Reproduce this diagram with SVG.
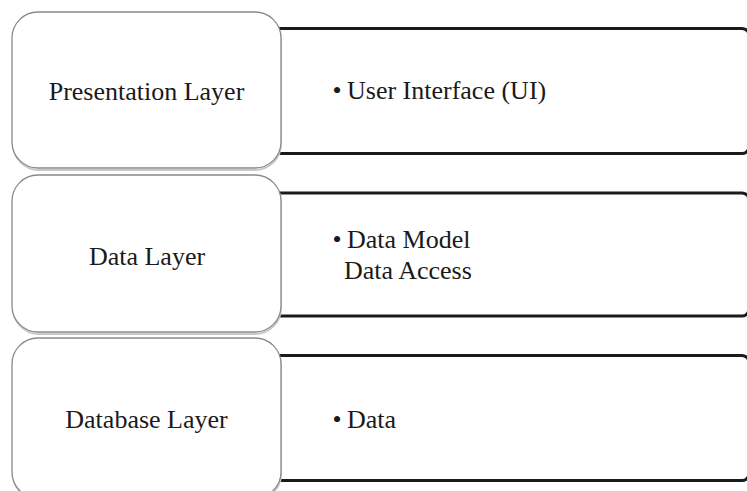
<svg xmlns="http://www.w3.org/2000/svg" width="747" height="491" viewBox="0 0 747 491">
<style>
.panel{fill:#fff;stroke:#1a1a1a;stroke-width:3}
.shadow{fill:none;stroke:#c8c8c8;stroke-width:2}
.layer{fill:#fff;stroke:#8a8a8a;stroke-width:1.3}
text{font-family:"Liberation Serif","Times New Roman",serif;font-size:26px;fill:#1a1a1a}
.c{text-anchor:middle}
</style>
<rect width="747" height="491" fill="#fff"/>
<g id="connectors"></g>
<g id="presentation">
<rect class="panel" x="240" y="28.5" width="509" height="125" rx="7"/>
<text x="332.5" y="99">•</text><text x="347" y="99">User Interface (UI)</text>
<rect class="shadow" x="13" y="14" width="268" height="156" rx="26"/>
<rect class="layer" x="12" y="12" width="269" height="156" rx="26"/>
<text class="c" x="146.5" y="100">Presentation Layer</text>
</g>
<g id="data">
<rect class="panel" x="240" y="193" width="509" height="123" rx="7"/>
<text x="332.5" y="248">•</text><text x="347" y="248">Data Model</text>
<text x="344" y="279">Data Access</text>
<rect class="shadow" x="13" y="177" width="268" height="157" rx="26"/>
<rect class="layer" x="12" y="175" width="269" height="157" rx="26"/>
<text class="c" x="147" y="265">Data Layer</text>
</g>
<g id="database">
<rect class="panel" x="240" y="355.5" width="509" height="125" rx="7"/>
<text x="332.5" y="428">•</text><text x="347" y="428">Data</text>
<rect class="shadow" x="13" y="340" width="268" height="160" rx="26"/>
<rect class="layer" x="12" y="338" width="269" height="160" rx="26"/>
<text class="c" x="146.5" y="428">Database Layer</text>
</g>
</svg>
